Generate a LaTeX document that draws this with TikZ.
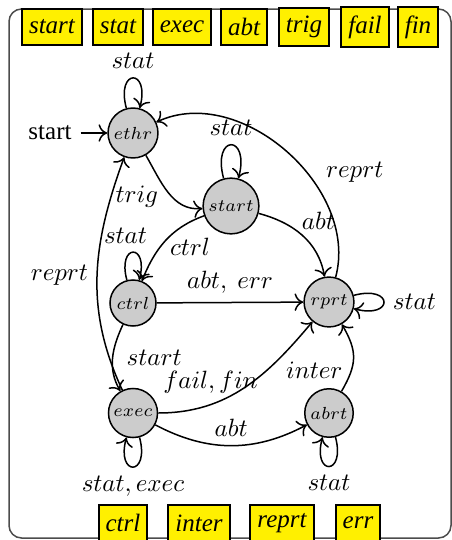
\documentclass[tikz,border=0pt]{standalone}
\usepackage{fontspec}
\setmainfont{Liberation Serif}
\usetikzlibrary{arrows.meta}
\definecolor{tagYellow}{RGB}{255,240,0}
\tikzstyle{machineState}=[shape=circle,draw=black,fill=gray!40,line width=0.6pt,minimum size=18.4pt,inner sep=1.5pt,font=\scriptsize]
\tikzstyle{signalTag}=[shape=rectangle,draw=black,fill=tagYellow,line width=0.8pt,minimum height=14.4pt,inner xsep=2.8pt,font=\itshape]
\tikzstyle{outerFrame}=[draw=black!70,line width=0.6pt,rounded corners=5pt]

\begin{document}
\begin{tikzpicture}[x=0.4pt,y=0.4pt,line width=0.6pt,>={Computer Modern Rightarrow[length=3.5pt,width=7pt]}]
        \useasboundingbox (0,0) rectangle (452,-540);
        \draw [outerFrame] (9,-9) rectangle (451,-538);

        % signal tags
        \node[signalTag] (tStart) at (52,-27)  {start};
        \node[signalTag] (tStat)  at (118,-27) {stat};
        \node[signalTag] (tExec)  at (182,-27) {exec};
        \node[signalTag] (tAbt)   at (244,-27) {abt};
        \node[signalTag] (tTrig)  at (304,-27) {trig};
        \node[signalTag] (tFail)  at (365,-27) {fail};
        \node[signalTag] (tFin)   at (418,-27) {fin};

        \node[signalTag] (tCtrl)  at (123,-523) {ctrl};
        \node[signalTag] (tInter) at (199,-523) {inter};
        \node[signalTag] (tReprt) at (282,-523) {reprt};
        \node[signalTag] (tErr)   at (358,-523) {err};

        % states
        \node[machineState] (ethr) at (133,-133) {$ethr$};
        \node[machineState] (strt) at (231,-206) {$start$};
        \node[machineState] (ctrl) at (133,-303) {$ctrl$};
        \node[machineState] (rprt) at (329,-302) {$rprt$};
        \node[machineState] (exec) at (133,-413) {$exec$};
        \node[machineState] (abrt) at (329,-413) {$abrt$};

        \node (init) at (50,-133) {start};
        \draw [->] (init) to (ethr);

        \draw [->] (ethr) to [loop above] node [above] {$stat$} (ethr);
        \draw [->] (strt) to [loop above] node [above] {$stat$} (strt);
        \draw [->] (ctrl) to [loop above] node [above,xshift=-3pt] {$stat$} (ctrl);
        \draw [->] (rprt) to [loop right] node [right] {$stat$} (rprt);
        \draw [->] (exec) to [loop below] node [below] {$stat, exec$} (exec);
        \draw [->] (abrt) to [loop below] node [below] {$stat$} (abrt);

        \draw [->] (ethr) to [out=-60,in=185] node [below left,pos=0.35,inner sep=1pt] {$trig$} (strt);
        \draw [->] (strt) to [out=200,in=68] node [below right,pos=0.3,xshift=-7pt] {$ctrl$} (ctrl);
        \draw [->] (strt) to [out=-15,in=100] node [above right,pos=0.45,inner sep=1pt] {$abt$} (rprt);
        \draw [->] (rprt) to [out=75,in=25] node [right=4pt,pos=0.4] {$reprt$} (ethr);
        \draw [->] (ctrl) to node [above] {$abt,\ err$} (rprt);
        \draw [->] (ctrl) to [out=245,in=120] node [right=2pt] {$start$} (exec);
        \draw [->] (exec) to [out=115,in=250] node [left] {$reprt$} (ethr);
        \draw [->] (exec) to [out=0,in=230] node [above=1pt,pos=0.28] {$fail, fin$} (rprt);
        \draw [->] (exec) to [bend right=28] node [above] {$abt$} (abrt);
        \draw [->] (abrt) to [out=60,in=-60,looseness=1.2] node [left,pos=0.3] {$inter$} (rprt);
    \end{tikzpicture}
\end{document}
